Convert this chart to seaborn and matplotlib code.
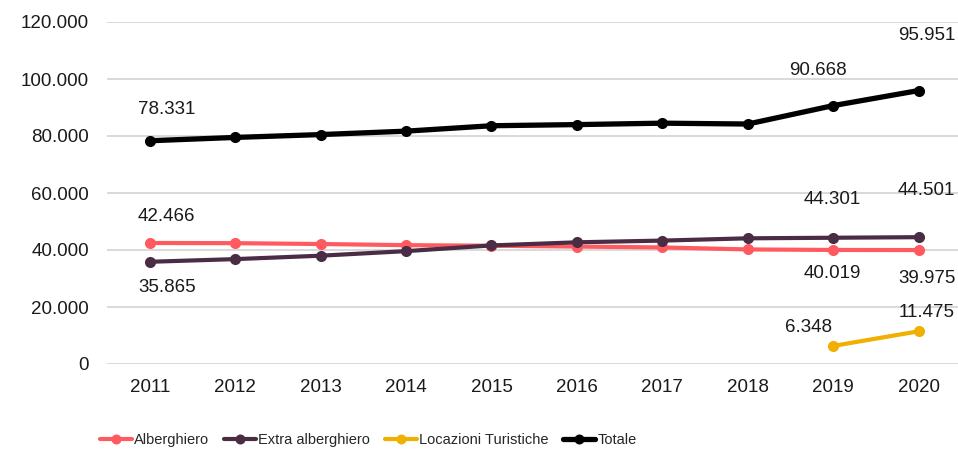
import numpy as np
import pandas as pd
import matplotlib
matplotlib.use("Agg")
import matplotlib.pyplot as plt
from matplotlib.ticker import FuncFormatter
import seaborn as sns

# Data (arrivi per tipologia)
years = [2011, 2012, 2013, 2014, 2015, 2016, 2017, 2018, 2019, 2020]
alberghiero = [42466, 42400, 42100, 41700, 41500, 41200, 40900, 40200, 40019, 39975]
extra_alberghiero = [35865, 36800, 38000, 39600, 41600, 42700, 43300, 44100, 44301, 44501]
locazioni = [np.nan] * 8 + [6348, 11475]
totale = [78331, 79500, 80500, 81700, 83600, 84000, 84500, 84200, 90668, 95951]

series_names = ["Alberghiero", "Extra alberghiero", "Locazioni Turistiche", "Totale"]
colors = ["#FF5A5F", "#4A2C45", "#F0B000", "#000000"]

# which points carry a value label, with offset in pixels (dx, dy)
labels = {
    "Alberghiero": {2011: (17, 26), 2019: (-1, -24), 2020: (8, -28)},
    "Extra alberghiero": {2011: (17, -26), 2019: (-1, 38), 2020: (8, 47)},
    "Locazioni Turistiche": {2019: (-25, 18), 2020: (8, 19)},
    "Totale": {2011: (17, 31), 2019: (-15, 35), 2020: (8, 55)},
}


def it_fmt(v):
    return f"{v:,.0f}".replace(",", ".")


df = pd.DataFrame({
    "anno": years * 4,
    "valore": alberghiero + extra_alberghiero + locazioni + totale,
    "serie": sum([[s] * len(years) for s in series_names], []),
})

sns.set_theme(style="white")
plt.rcParams["font.family"] = ["Liberation Sans", "DejaVu Sans"]

fig = plt.figure(figsize=(9.58, 4.54), dpi=100)
ax = fig.add_axes([107 / 958, 90 / 454, 851 / 958, 342 / 454])

palette = dict(zip(series_names, colors))
for name in series_names:
    sub = df[df["serie"] == name].dropna()
    lw = 3.8 if name == "Totale" else 3.0
    sns.lineplot(data=sub, x="anno", y="valore", color=palette[name], linewidth=lw,
                 marker="o", markersize=8, markeredgewidth=0, ax=ax, label=name,
                 legend=False)

for name, pts in labels.items():
    sub = df[df["serie"] == name].set_index("anno")
    for yr, (dx, dy) in pts.items():
        v = sub.loc[yr, "valore"]
        ax.annotate(it_fmt(v), (yr, v), xytext=(dx, dy), textcoords="offset pixels",
                    ha="center", va="center", fontsize=13.5, color="#1a1a1a")

ax.set_ylim(0, 120000)
ax.set_xlim(2010.5, 2020.46)
ax.set_yticks(range(0, 120001, 20000))
ax.yaxis.set_major_formatter(FuncFormatter(lambda v, p: it_fmt(v)))
ax.set_xticks(years)
ax.grid(axis="y", color="#D9D9D9", linewidth=1.4)
ax.grid(axis="x", visible=False)
for s in ax.spines.values():
    s.set_visible(False)
ax.tick_params(axis="both", length=0, labelsize=13.5, labelcolor="#1a1a1a")
ax.tick_params(axis="y", pad=13)
ax.tick_params(axis="x", pad=11)
ax.set_xlabel("")
ax.set_ylabel("")

handles, lbls = ax.get_legend_handles_labels()
fig.legend(handles, lbls, loc="center left", bbox_to_anchor=(100 / 958, 1 - 440 / 454),
           ncol=4, frameon=False, fontsize=10.5, handlelength=2.2, handletextpad=0.15,
           columnspacing=1.0, borderaxespad=0, borderpad=0, markerscale=0.9)

fig.savefig("out.png", dpi=100)
